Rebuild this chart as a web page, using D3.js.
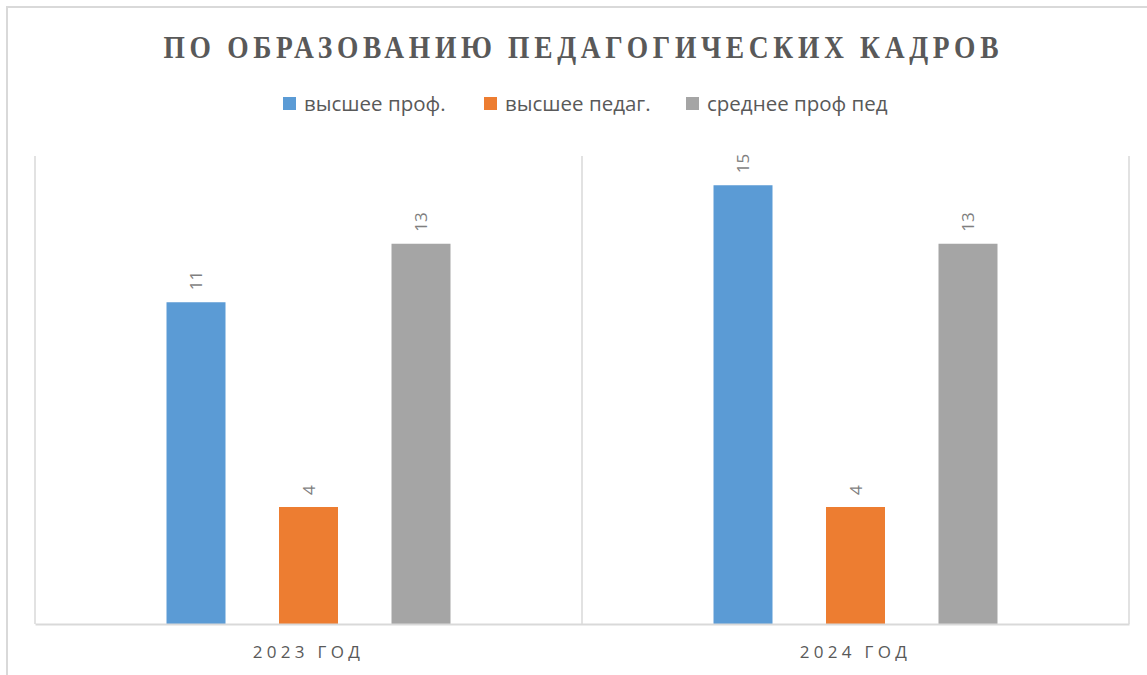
<!DOCTYPE html>
<html><head><meta charset="utf-8">
<script src="https://cdn.jsdelivr.net/npm/d3@7"></script>
<style>html,body{margin:0;padding:0;background:#fff;}svg{display:block;}</style>
</head><body>
<script>
const categories = ["2023 ГОД", "2024 ГОД"];
const seriesNames = ["высшее проф.", "высшее педаг.", "среднее проф пед"];
const seriesColors = ["#5b9bd5", "#ed7d31", "#a5a5a5"];
const vysshee_prof = [11, 15];
const vysshee_pedag = [4, 4];
const srednee_prof_ped = [13, 13];
const titleText = "ПО ОБРАЗОВАНИЮ ПЕДАГОГИЧЕСКИХ КАДРОВ";

const W = 1147, H = 675;
const svg = d3.select("body").append("svg").attr("width", W).attr("height", H);

// outer chart border
svg.append("path").attr("d", "M7,676 L7,7 L1148,7")
  .attr("fill", "none").attr("stroke", "#d9d9d9").attr("stroke-width", 2);

const plot = {left: 35, right: 1129, top: 156, bottom: 624};
const x0 = d3.scaleBand().domain(categories).range([plot.left, plot.right]).padding(0);
const x1 = d3.scaleBand().domain(seriesNames).range([0, x0.bandwidth()]).paddingInner(0.4756).paddingOuter(1.169);
const y = d3.scaleLinear().domain([0, 16]).range([plot.bottom, plot.top]);

// vertical category separators
const seps = [plot.left, ...categories.map(c => x0(c) + x0.bandwidth())];
svg.selectAll("line.sep").data(seps).enter().append("line")
  .attr("x1", d => d).attr("x2", d => d).attr("y1", plot.top).attr("y2", plot.bottom)
  .attr("stroke", "#d9d9d9").attr("stroke-width", 1.5);

const seriesVals = [vysshee_prof, vysshee_pedag, srednee_prof_ped];
const data = [];
categories.forEach((c, ci) => seriesNames.forEach((s, si) => data.push({c, s, si, v: seriesVals[si][ci]})));

svg.selectAll("rect.bar").data(data).enter().append("rect")
  .attr("x", d => x0(d.c) + x1(d.s)).attr("width", x1.bandwidth())
  .attr("y", d => y(d.v)).attr("height", d => y(0) - y(d.v))
  .attr("fill", d => seriesColors[d.si]);

// x axis
const xAxis = d3.axisBottom(x0).tickSize(0).tickPadding(22);
const gx = svg.append("g").attr("transform", `translate(0,${plot.bottom})`).call(xAxis);
gx.select(".domain").attr("stroke", "#d9d9d9").attr("stroke-width", 2);
gx.selectAll("text").attr("font-family", "'Open Sans', sans-serif").attr("font-size", 17)
  .attr("fill", "#595959").attr("letter-spacing", "4.3px");

// data labels (rotated)
svg.selectAll("text.lbl").data(data).enter().append("text")
  .attr("transform", d => `translate(${x0(d.c) + x1(d.s) + x1.bandwidth()/2 + 6},${y(d.v) - 12}) rotate(-90)`)
  .attr("text-anchor", "start")
  .attr("font-family", "'Open Sans', sans-serif").attr("font-size", 17)
  .attr("fill", "#7f7f7f").text(d => d.v);

// title
const tsx = 0.86;
svg.append("text").attr("transform", `translate(581,58) scale(${tsx},1)`).attr("text-anchor", "middle")
  .attr("font-family", "'Liberation Serif', 'Times New Roman', serif").attr("font-weight", "bold")
  .attr("font-size", 32).attr("fill", "#595959")
  .attr("textLength", 835 / tsx).attr("lengthAdjust", "spacing").text(titleText);

// legend
const legX = [283, 484, 686];
const leg = svg.selectAll("g.leg").data(seriesNames).enter().append("g")
  .attr("transform", (d, i) => `translate(${legX[i]},97)`);
leg.append("rect").attr("width", 13).attr("height", 13).attr("fill", (d, i) => seriesColors[i]);
leg.append("text").attr("x", 21).attr("y", 14)
  .attr("font-family", "'Open Sans', sans-serif").attr("font-size", 20.5)
  .attr("fill", "#595959").text(d => d);
</script>
</body></html>
